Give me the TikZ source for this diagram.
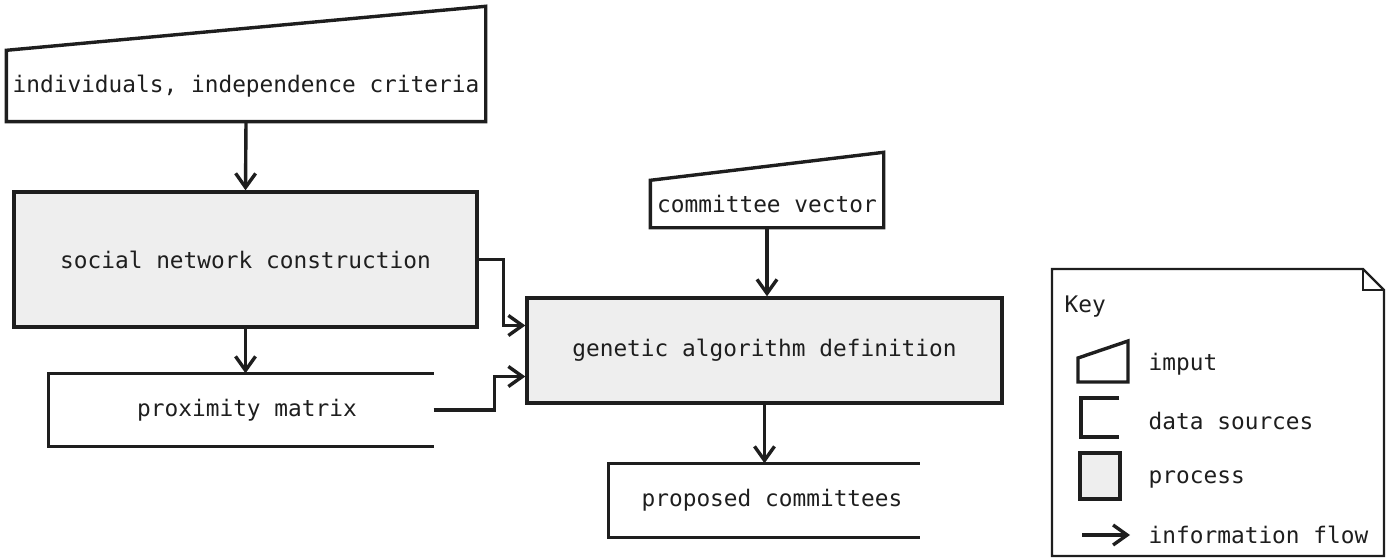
\documentclass[tikz,border=0pt]{standalone}
\usepackage{fontspec}
\usetikzlibrary{arrows.meta, positioning, calc}
\newfontfamily\flowmono{DejaVu Sans Mono}
\definecolor{FlowInk}{RGB}{30,30,30}
\definecolor{ProcessFill}{RGB}{238,238,238}

\begin{document}
\begin{tikzpicture}[
    x=1pt,
    y=1pt,
    font=\flowmono\fontsize{22.8}{27}\selectfont,
    text=FlowInk,
    line width=3.4pt,
    flow/.style={draw=FlowInk, -{Straight Barb[length=14pt,width=20pt]}},
    procbox/.style={draw=FlowInk, fill=ProcessFill, inner sep=0pt},
    plainbox/.style={inner sep=0pt}
]
\useasboundingbox (0,0) rectangle (1392,558);

% Inputs (slanted top)
\node[plainbox, minimum width=476, minimum height=68] (indiv) at (246,472) {individuals, independence criteria};
\draw[FlowInk] (indiv.south east) -- (indiv.south west) -- (indiv.north west)
  -- ($(indiv.north east)+(0,44)$) -- cycle;

\node[plainbox, minimum width=230, minimum height=44] (cvec) at (767,354) {committee vector};
\draw[FlowInk] (cvec.south east) -- (cvec.south west) -- (cvec.north west)
  -- ($(cvec.north east)+(0,28)$) -- cycle;

% Processes
\node[procbox, minimum width=463, minimum height=135] (social) at (245.5,298.5) {social network construction};
\node[procbox, minimum width=475, minimum height=105] (ga) at (764.5,207.5) {genetic algorithm definition};

% Data sources (open on the right)
\node[plainbox, minimum width=382, minimum height=70] (prox) at (241,148) {\hspace{12pt}proximity matrix};
\draw[FlowInk] (prox.north east) -- (prox.north west) -- (prox.south west) -- (prox.south east);

\node[plainbox, minimum width=308, minimum height=71] (proposed) at (764,57.5) {\hspace{16pt}proposed committees};
\draw[FlowInk] (proposed.north east) -- (proposed.north west) -- (proposed.south west) -- (proposed.south east);

% Information flow
\draw[flow] (indiv.south) -- (social.north);
\draw[flow] (social.south) -- (social.south |- prox.north);
\draw[flow] (cvec.south) -- (cvec.south |- ga.north);
\draw[flow] (ga.south) -- (ga.south |- proposed.north);
\draw[flow] (social.east) -- ++(25,0) |- ([yshift=25pt]ga.west);
\draw[flow] (prox.east) -- ++(61,0) |- ([yshift=-26pt]ga.west);

% Key
\draw[FlowInk, line width=2.2pt] (1052,2) -- (1052,289) -- (1363,289) -- (1384,268) -- (1384,2) -- cycle;
\draw[FlowInk, line width=1.2pt] (1363,289) -- (1363,268) -- (1384,268);
\node[plainbox, anchor=west] (keytitle) at (1063,251) {Key};

\draw[FlowInk] (1078,176) -- (1078,200) -- (1128,217) -- (1128,176) -- cycle;
\draw[FlowInk] (1119,160) -- (1081,160) -- (1081,121) -- (1119,121);
\draw[FlowInk, fill=ProcessFill] (1080,59) rectangle (1120,105);
\coordinate (flowA) at (1082,23);
\coordinate (flowB) at (1130,23);
\draw[flow] (flowA) -- (flowB);

\foreach \y/\lab/\name in {194/imput/keyin, 137/data sources/keydata,
                           79/process/keyproc, 23/information flow/keyflow}{
  \node[plainbox, anchor=west] (\name) at (1147,\y) {\lab};
}

\end{tikzpicture}
\end{document}
